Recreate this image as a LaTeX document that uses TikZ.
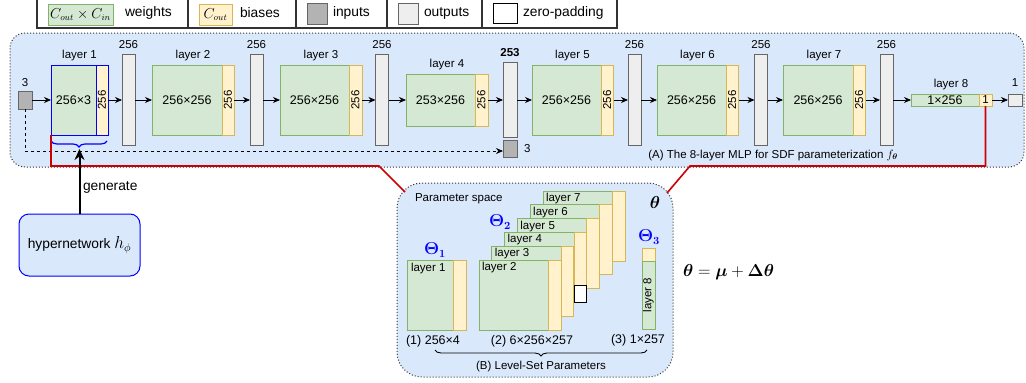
\documentclass[tikz,border=0pt]{standalone}
\usepackage{amsmath}
\usepackage{bm}
\usepackage{fontspec}
\setmainfont{Liberation Sans}
\usetikzlibrary{arrows.meta,decorations.pathreplacing,calc}
\definecolor{pblue}{HTML}{DAE8FC}
\definecolor{wgreen}{HTML}{D5E8D4}
\definecolor{wgreenD}{HTML}{82B366}
\definecolor{byel}{HTML}{FFF2CC}
\definecolor{byelD}{HTML}{D6B656}
\definecolor{ingray}{HTML}{B3B3B3}
\definecolor{outgray}{HTML}{EEEEEE}
\definecolor{grayD}{HTML}{666666}
\definecolor{redC}{HTML}{CC0000}
\definecolor{blueC}{HTML}{0000FF}
\begin{document}
\begin{tikzpicture}[x=1pt,y=-1pt,
  every node/.style={inner sep=0pt, outer sep=0pt},
  lbl/.style={font=\fontsize{11.5}{13}\selectfont},
  ctext/.style={font=\fontsize{12.5}{14}\selectfont},
  legt/.style={font=\fontsize{13.8}{16}\selectfont, anchor=west},
  wbox/.style={draw=wgreenD, fill=wgreen, line width=0.9pt},
  bbox/.style={draw=byelD, fill=byel, line width=0.9pt},
  inbox/.style={draw=grayD, fill=ingray, line width=0.9pt},
  outbar/.style={draw=grayD, fill=outgray, line width=0.9pt},
  rot/.style={lbl, rotate=90},
  theta/.style={text=blueC, font=\fontsize{16}{16}\selectfont},
  arr/.style={-{Stealth[length=7pt,width=6pt]}, line width=0.8pt},
  panel/.style={draw=black!80, fill=pblue, line width=1pt, dash pattern=on 1pt off 2pt},
  redl/.style={draw=redC, line width=1.6pt},
  legline/.style={draw=black!80, line width=1.2pt}
]
\useasboundingbox (0,0) rectangle (1026,383);

% ---------- legend ----------
\draw[legline] (37,-3) -- (37,28) -- (617,28) -- (617,-3);
\foreach \sx in {188,296,387,482} \draw[legline] (\sx,-3) -- (\sx,28);
\node[wbox, minimum width=65pt, minimum height=21pt] (lgw) at (80.5,14.5) {\fontsize{13.5}{14}\selectfont$C_{out}\times C_{in}$};
\node[legt] (lgwt) at (125,13) {weights};
\node[bbox, minimum width=33pt, minimum height=21pt] (lgb) at (215.5,14.5) {\fontsize{13.5}{14}\selectfont$C_{out}$};
\node[legt] (lgbt) at (240,13) {biases};
\node[inbox, minimum width=20pt, minimum height=21pt] (lgi) at (317,13.5) {};
\node[legt] (lgit) at (333,13) {inputs};
\node[outbar, minimum width=20pt, minimum height=21pt] (lgo) at (408,13.5) {};
\node[legt] (lgot) at (424,13) {outputs};
\node[draw=black, fill=white, line width=0.9pt, minimum width=24pt, minimum height=20pt] (lgz) at (505,13.5) {};
\node[legt] (lgzt) at (523,13) {zero-padding};

% ---------- panel A ----------
\node[panel, rounded corners=15pt, minimum width=1014pt, minimum height=134pt, anchor=north west] (pA) at (10,33) {};

% input
\node[inbox, minimum width=14pt, minimum height=18pt] (in) at (25,100) {};
\node[lbl] (inl) at (25,83) {3};

% layer 1
\node[wbox, draw=blueC, ctext, minimum width=45pt, minimum height=70pt, anchor=west] (w1) at (51,100) {256×3};
\node[bbox, draw=blueC, minimum width=12pt, minimum height=70pt, anchor=west] (b1) at (w1.east) {};
\node[rot] (b1t) at (b1) {256};
\node[lbl] (l1) at (79.5,56) {layer 1};
\node[outbar, minimum width=13pt, minimum height=91pt] (o1) at (128.5,100) {};
\node[lbl] (o1t) at (128.5,44.5) {256};

% layer 2
\node[wbox, ctext, minimum width=70pt, minimum height=70pt, anchor=west] (w2) at (152,100) {256×256};
\node[bbox, minimum width=12pt, minimum height=70pt, anchor=west] (b2) at (w2.east) {};
\node[rot] (b2t) at (b2) {256};
\node[lbl] (l2) at (193,56) {layer 2};
\node[outbar, minimum width=13pt, minimum height=91pt] (o2) at (256.5,100) {};
\node[lbl] (o2t) at (256.5,44.5) {256};

% layer 3
\node[wbox, ctext, minimum width=69pt, minimum height=70pt, anchor=west] (w3) at (280,100) {256×256};
\node[bbox, minimum width=13pt, minimum height=70pt, anchor=west] (b3) at (w3.east) {};
\node[rot] (b3t) at (b3) {256};
\node[lbl] (l3) at (321,56) {layer 3};
\node[outbar, minimum width=13pt, minimum height=91pt] (o3) at (382,100) {};
\node[lbl] (o3t) at (382,44.5) {256};

% layer 4
\node[wbox, ctext, minimum width=69pt, minimum height=52pt, anchor=west] (w4) at (406,100) {253×256};
\node[bbox, minimum width=13pt, minimum height=52pt, anchor=west] (b4) at (w4.east) {};
\node[rot] (b4t) at (b4) {256};
\node[lbl] (l4) at (447,65) {layer 4};
\node[outbar, minimum width=14pt, minimum height=75pt] (o4) at (510,100) {};
\node[lbl, font=\fontsize{11.5}{13}\selectfont\bfseries] (o4t) at (510,53) {253};
\node[inbox, minimum width=14pt, minimum height=17pt] (pad) at (510,149) {};
\node[lbl, anchor=west] (padt) at (524,149) {3};

% layer 5
\node[wbox, ctext, minimum width=69pt, minimum height=70pt, anchor=west] (w5) at (532,100) {256×256};
\node[bbox, minimum width=12.5pt, minimum height=70pt, anchor=west] (b5) at (w5.east) {};
\node[rot] (b5t) at (b5) {256};
\node[lbl] (l5) at (572.5,56) {layer 5};
\node[outbar, minimum width=13pt, minimum height=91pt] (o5) at (634.5,100) {};
\node[lbl] (o5t) at (634.5,44.5) {256};

% layer 6
\node[wbox, ctext, minimum width=69pt, minimum height=70pt, anchor=west] (w6) at (657,100) {256×256};
\node[bbox, minimum width=12.5pt, minimum height=70pt, anchor=west] (b6) at (w6.east) {};
\node[rot] (b6t) at (b6) {256};
\node[lbl] (l6) at (697.5,56) {layer 6};
\node[outbar, minimum width=13pt, minimum height=91pt] (o6) at (761,100) {};
\node[lbl] (o6t) at (761,44.5) {256};

% layer 7
\node[wbox, ctext, minimum width=70pt, minimum height=70pt, anchor=west] (w7) at (783,100) {256×256};
\node[bbox, minimum width=12.5pt, minimum height=70pt, anchor=west] (b7) at (w7.east) {};
\node[rot] (b7t) at (b7) {256};
\node[lbl] (l7) at (824,56) {layer 7};
\node[outbar, minimum width=13pt, minimum height=91pt] (o7) at (886.5,100) {};
\node[lbl] (o7t) at (886.5,44.5) {256};

% layer 8
\node[wbox, ctext, minimum width=68pt, minimum height=12pt, anchor=west] (w8) at (911,100) {1×256};
\node[bbox, lbl, minimum width=13pt, minimum height=12pt, anchor=west] (b8) at (w8.east) {1};
\node[lbl] (l8) at (951,85) {layer 8};
\node[outbar, minimum width=14pt, minimum height=12pt] (out) at (1015,100) {};
\node[lbl] (outt) at (1015,83) {1};

% arrows
\draw[arr] (in) -- (w1);
\foreach \a/\b in {b1/o1,o1/w2,b2/o2,o2/w3,b3/o3,o3/w4,b4/o4,o4/w5,b5/o5,o5/w6,b6/o6,o6/w7,b7/o7,o7/w8,b8/out}
  \draw[arr] (\a) -- (\b);
\draw[arr, dash pattern=on 3pt off 3pt] (in.south) |- ([yshift=-2pt]pad.west);

\node[lbl, anchor=base east] (capA) at (898,158) {(A) The 8-layer MLP for SDF parameterization $f_{\bm{\theta}}$};

% brace under layer 1
\draw[blueC, line width=1.2pt, decorate, decoration={brace, amplitude=6pt}] (107,141) -- (51,141);
\coordinate (btip) at (79.5,149);

% ---------- panel B ----------
\node[panel, rounded corners=25pt, minimum width=276pt, minimum height=194pt, anchor=north west] (pB) at (397,183) {};

% red zoom lines
\coordinate (rL) at (379,166);
\coordinate (rR) at (690,166);
\draw[redl] (w1.south west) |- (rL) -- ($(pB.north west)+(8,9)$);
\draw[redl] (b8.south) |- (rR) -- ($(pB.north east)+(-6,10)$);

% hypernetwork
\node[draw=blueC, fill=pblue, rounded corners=10pt, line width=1pt, minimum width=121pt, minimum height=62pt,
      font=\fontsize{13.8}{16}\selectfont] (hyp) at (79.5,245) {hypernetwork {\fontsize{16}{16}\selectfont$h_{\phi}$}};
\draw[line width=2pt, -{Stealth[length=11pt,width=10pt]}] (hyp.north) -- (btip);
\node[legt] (gen) at (83,187) {generate};

% panel B contents
\node[lbl, anchor=west] (ps) at (415,199) {Parameter space};
\node (thB) at (655,202) {\fontsize{17}{17}\selectfont$\bm{\theta}$};

\node[theta] (T1) at (435,250) {$\bm{\Theta}_{\bm{1}}$};
\node[wbox, minimum width=46pt, minimum height=70pt, anchor=north west] (p1w) at (407,260) {};
\node[bbox, minimum width=13pt, minimum height=70pt, anchor=north west] (p1b) at (p1w.north east) {};
\node[lbl, anchor=west] (p1t) at (411,269) {layer 1};

\foreach \k in {7,6,5,4,3,2}{
  \pgfmathsetmacro\xx{479+(\k-2)*12.8}
  \pgfmathsetmacro\yy{260-(\k-2)*13.8}
  \node[wbox, minimum width=69.5pt, minimum height=70pt, anchor=north west] (pw\k) at (\xx,\yy) {};
  \node[bbox, minimum width=12.5pt, minimum height=70pt, anchor=north west] (pb\k) at (pw\k.north east) {};
  \node[lbl, anchor=west] (pt\k) at ({\xx+3},{\yy+7.5}) {layer \k};
  \ifnum\k=4
    \node[draw=black, fill=white, line width=0.9pt, minimum width=12.5pt, minimum height=17pt, anchor=south] (zpad) at (pb4.south) {};
  \fi
}
\node[theta] (T2) at (500,222) {$\bm{\Theta}_{\bm{2}}$};

\node[theta] (T3) at (649,237) {$\bm{\Theta}_{\bm{3}}$};
\node[bbox, minimum width=13pt, minimum height=13pt, anchor=north west] (p8b) at (642,248) {};
\node[wbox, minimum width=13pt, minimum height=68pt, anchor=north] (p8w) at (p8b.south) {};
\node[rot] (p8t) at (p8w) {layer 8};

\node[ctext] (c1) at (433,341) {(1) 256×4};
\node[ctext] (c2) at (532,341) {(2) 6×256×257};
\node[ctext] (c3) at (638,340) {(3) 1×257};
\draw[line width=0.9pt, decorate, decoration={brace, amplitude=6pt}] (647,350) -- (435,350);
\node[lbl] (capB) at (541,367) {(B) Level-Set Parameters};

% equation
\node[anchor=west] (eq) at (683,272) {\fontsize{18}{18}\selectfont$\bm{\theta}=\bm{\mu}+\bm{\Delta\theta}$};
\end{tikzpicture}
\end{document}
